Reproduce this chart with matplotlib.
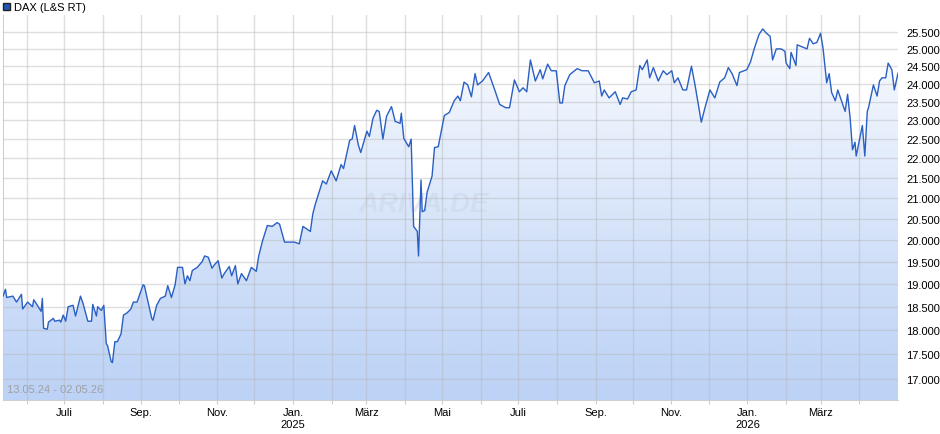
import numpy as np
import pandas as pd
import matplotlib
matplotlib.use("Agg")
import matplotlib.pyplot as plt
import matplotlib.dates as mdates
from matplotlib.ticker import FixedLocator, NullLocator

plt.rcParams['font.family'] = ['Liberation Sans', 'DejaVu Sans']

start = pd.Timestamp("2024-05-13")
end = pd.Timestamp("2026-05-02")

# trading-day offsets and DAX closes
day_offsets = [0, 2, 3, 8, 11, 15, 16, 20, 24, 25, 28, 31, 32, 33, 36, 37, 41, 42, 46, 47,
               49, 51, 53, 57, 59, 63, 65, 69, 72, 73, 76, 77, 80, 82, 84, 85, 88, 89, 91, 93,
               96, 98, 101, 104, 106, 109, 114, 115, 118, 121, 122, 125, 128, 132, 134, 137, 140, 142, 146, 148,
               150, 152, 154, 158, 162, 164, 167, 170, 172, 175, 178, 180, 184, 186, 189, 191, 194, 198, 202, 206,
               208, 211, 215, 219, 223, 225, 229, 233, 237, 241, 244, 250, 252, 254, 260, 263, 267, 271, 275, 277,
               282, 284, 286, 289, 291, 296, 298, 301, 304, 306, 309, 312, 316, 319, 323, 324, 326, 330, 332, 334,
               337, 338, 340, 341, 343, 345, 349, 351, 354, 359, 363, 367, 370, 372, 375, 378, 381, 384, 386, 390,
               395, 400, 404, 409, 412, 416, 420, 423, 426, 429, 433, 437, 439, 443, 446, 450, 453, 455, 457, 461,
               467, 471, 476, 481, 485, 487, 489, 493, 498, 502, 504, 508, 511, 515, 518, 520, 524, 526, 529, 533,
               537, 540, 544, 546, 549, 553, 556, 560, 563, 566, 568, 571, 575, 579, 583, 587, 590, 593, 597, 599,
               605, 608, 611, 615, 618, 621, 624, 626, 629, 633, 636, 637, 640, 641, 645, 646, 654, 656, 659, 662,
               665, 667, 670, 672, 674, 677, 679, 682, 685, 687, 689, 691, 693, 694, 699, 701, 703, 704, 708, 711,
               713, 715, 718, 720, 723, 725, 728]
dax = [18730, 18880, 18700, 18730, 18600, 18770, 18450, 18600, 18500, 18650, 18530, 18400, 18680, 18040, 18020, 18170, 18250, 18190, 18210, 18170,
       18320, 18190, 18500, 18530, 18300, 18730, 18580, 18190, 18190, 18550, 18300, 18500, 18420, 18530, 17720, 17680, 17350, 17330, 17760, 17760,
       17920, 18320, 18370, 18450, 18600, 18600, 18980, 18960, 18600, 18250, 18210, 18530, 18680, 18730, 18960, 18700, 18980, 19370, 19370, 19000,
       19180, 19070, 19300, 19370, 19500, 19630, 19600, 19350, 19430, 19520, 19130, 19230, 19390, 19180, 19410, 19000, 19230, 19070, 19370, 19280,
       19630, 19970, 20340, 20320, 20410, 20370, 19950, 19950, 19950, 19910, 20320, 20200, 20620, 20850, 21430, 21350, 21680, 21430, 21840, 21740,
       22470, 22500, 22860, 22350, 22150, 22710, 22570, 23060, 23270, 23240, 22500, 23110, 23370, 22970, 22920, 23190, 22520, 22300, 22500, 20320,
       20200, 19630, 21450, 20670, 20700, 21150, 21550, 22280, 22300, 23130, 23210, 23530, 23660, 23530, 24050, 23970, 23640, 24290, 23970, 24080,
       24320, 23830, 23430, 23340, 23340, 24110, 23780, 23890, 23780, 24680, 24080, 24400, 24140, 24560, 24370, 24370, 23470, 23470, 23950, 24260,
       24430, 24370, 24370, 24030, 24080, 23660, 23830, 23610, 23780, 23430, 23610, 23580, 23780, 23830, 24520, 24400, 24680, 24170, 24460, 24080,
       24370, 24260, 24370, 24030, 24170, 23830, 23830, 24500, 23950, 23340, 22950, 23340, 23830, 23610, 24050, 24170, 24460, 24290, 23950, 24320,
       24400, 24620, 25000, 25430, 25590, 25460, 25370, 24680, 25000, 25000, 24930, 24590, 24430, 24900, 24520, 25120, 25000, 25310, 25150, 25190,
       25460, 25030, 24030, 24290, 23760, 23530, 23830, 23530, 23240, 23710, 23080, 22220, 22420, 22060, 22860, 22060, 23240, 23340, 23970, 23660,
       24080, 24170, 24170, 24590, 24400, 23830, 24300]

month_labels = {7: "Juli", 9: "Sep.", 11: "Nov.", 1: "Jan.", 3: "März", 5: "Mai"}
y_ticks = list(range(17000, 26000, 500))

span = (end - start).days
dates = start + pd.to_timedelta(np.array(day_offsets) * span / day_offsets[-1], unit="D")
x = mdates.date2num(dates)
y = np.array(dax, dtype=float)

fig = plt.figure(figsize=(9.4, 4.35), dpi=100)
ax = fig.add_axes([3 / 940, 34 / 435, 895 / 940, 385 / 435])
ax.set_yscale("log")
ymin, ymax = 16590, 26010
ax.set_xlim(x[0], x[-1])
ax.set_ylim(ymin, ymax)

# month grid, label every second month (none for the cut-off last month)
months = pd.date_range("2024-06-01", "2026-04-30", freq="MS")
ax.xaxis.set_major_locator(FixedLocator(mdates.date2num(months)))
labels = []
for m in months:
    t = month_labels.get(m.month, "")
    if m.month == 1:
        t += "\n%d" % m.year
    labels.append(t)
ax.set_xticklabels(labels)
ax.yaxis.set_major_locator(FixedLocator(y_ticks))
ax.yaxis.set_minor_locator(NullLocator())
ax.set_yticklabels(["{:,}".format(v).replace(",", ".") for v in y_ticks])
ax.yaxis.tick_right()
ax.set_axisbelow(False)
ax.grid(True, color="#b4b4b4", alpha=0.42, lw=1)

# gradient fill under the line
grad = np.linspace(0, 1, 256).reshape(-1, 1)
cmap = matplotlib.colors.LinearSegmentedColormap.from_list("g", ["#ffffff", "#bcd2f6"])
im = ax.imshow(grad, cmap=cmap, aspect="auto", extent=[x[0], x[-1], ymin, ymax],
               origin="upper", zorder=1, interpolation="bilinear")
poly = ax.fill_between(x, y, ymin, color="none", zorder=1)
im.set_clip_path(poly.get_paths()[0], transform=ax.transData)
ax.plot(x, y, color="#2a5fc4", lw=1.0, zorder=3)

ax.tick_params(axis="x", length=3, color="#cccccc", labelsize=8, pad=2)
ax.tick_params(axis="y", length=0, labelsize=8, pad=6)
for s in ["top", "right"]:
    ax.spines[s].set_visible(False)
for s in ["left", "bottom"]:
    ax.spines[s].set_color("#d0d0d0")

ax.text(0.005, 0.02, "13.05.24 - 02.05.26", transform=ax.transAxes, fontsize=8,
        color="#a0a0a0", zorder=4)
ax.text(0.47, 0.51, "ARIVA.DE", transform=ax.transAxes, fontsize=20, fontweight="bold",
        fontstyle="italic", color="#c8d4e6", alpha=0.45, ha="center", va="center", zorder=2)

fig.patches.append(matplotlib.patches.Rectangle((3 / 940, 424 / 435), 7 / 940, 7 / 435,
                   transform=fig.transFigure, facecolor="#1f55b8", edgecolor="#222"))
fig.text(14 / 940, 427 / 435, "DAX (L&S RT)", fontsize=8, va="center")

fig.savefig("out.png", dpi=100)
